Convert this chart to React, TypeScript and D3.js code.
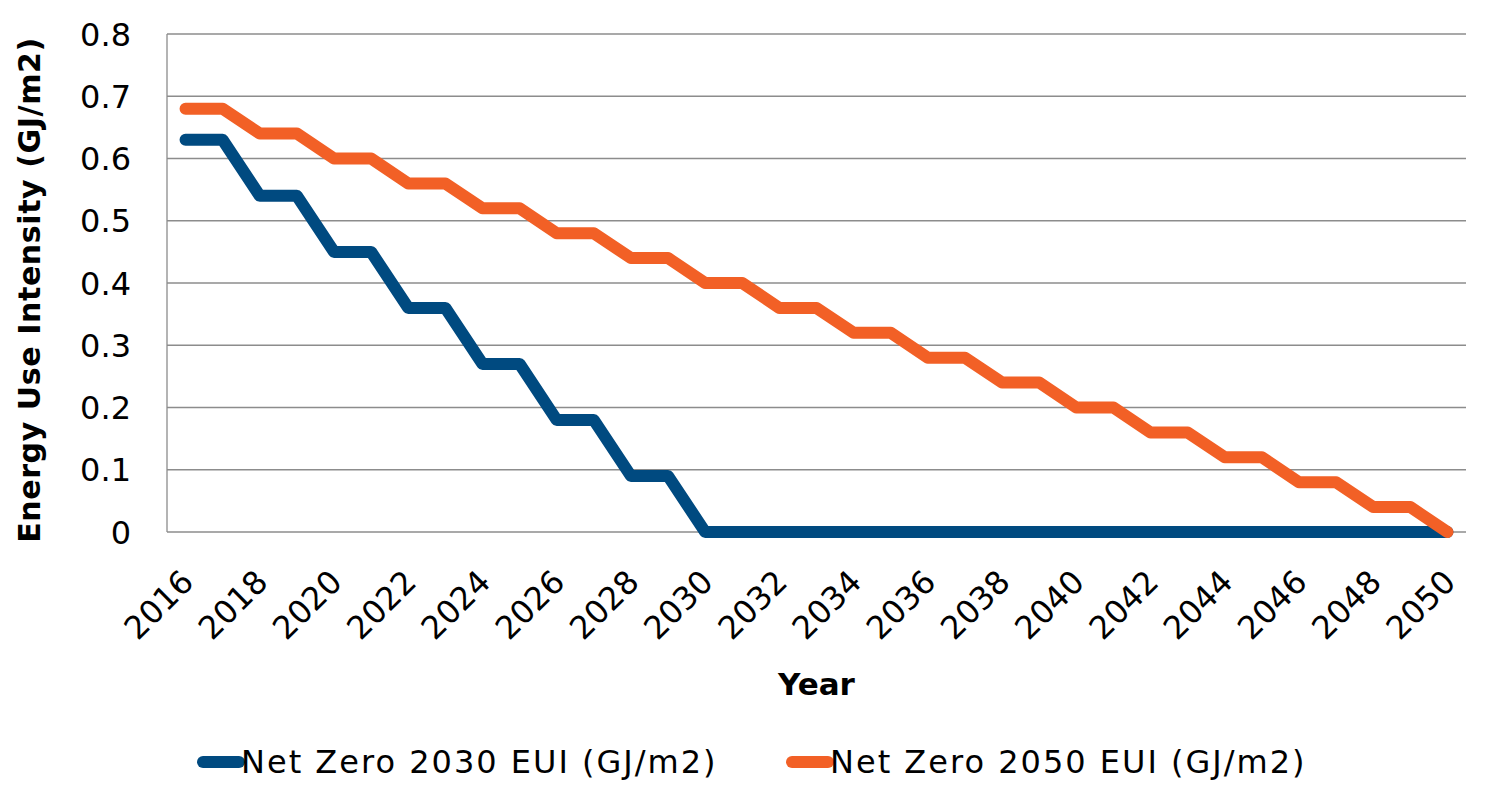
import React from "react";
import * as d3 from "d3";

const years: number[] = [
  2016, 2017, 2018, 2019, 2020, 2021, 2022, 2023, 2024, 2025, 2026, 2027,
  2028, 2029, 2030, 2031, 2032, 2033, 2034, 2035, 2036, 2037, 2038, 2039,
  2040, 2041, 2042, 2043, 2044, 2045, 2046, 2047, 2048, 2049, 2050,
];
const netZero2030: number[] = [
  0.63, 0.63, 0.54, 0.54, 0.45, 0.45, 0.36, 0.36, 0.27, 0.27, 0.18, 0.18,
  0.09, 0.09, 0, 0, 0, 0, 0, 0, 0, 0, 0, 0, 0, 0, 0, 0, 0, 0, 0, 0, 0, 0, 0,
];
const netZero2050: number[] = [
  0.68, 0.68, 0.64, 0.64, 0.6, 0.6, 0.56, 0.56, 0.52, 0.52, 0.48, 0.48, 0.44,
  0.44, 0.4, 0.4, 0.36, 0.36, 0.32, 0.32, 0.28, 0.28, 0.24, 0.24, 0.2, 0.2,
  0.16, 0.16, 0.12, 0.12, 0.08, 0.08, 0.04, 0.04, 0,
];
const yTicks: number[] = [0, 0.1, 0.2, 0.3, 0.4, 0.5, 0.6, 0.7, 0.8];
const seriesNames: string[] = [
  "Net Zero 2030 EUI (GJ/m2)",
  "Net Zero 2050 EUI (GJ/m2)",
];
const seriesColors: string[] = ["#004a80", "#f26026"];

const W = 1500;
const H = 800;
const left = 167;
const right = 1466;
const top = 34;
const bottom = 532;
const font = "'DejaVu Sans', sans-serif";

export default function App() {
  const x = d3
    .scaleBand<number>()
    .domain(years)
    .range([left, right])
    .paddingInner(0)
    .paddingOuter(0);
  const cx = (yr: number) => (x(yr) as number) + x.bandwidth() / 2;
  const y = d3.scaleLinear().domain([0, 0.8]).range([bottom, top]);
  const line = d3
    .line<number>()
    .x((_, i) => cx(years[i]))
    .y((d) => y(d));
  const series = [netZero2030, netZero2050];
  const labelYears = years.filter((yr) => (yr - 2016) % 2 === 0);

  return (
    <svg
      width={W}
      height={H}
      style={{ position: "absolute", left: 0, top: 0 }}
      fontFamily={font}
    >
      <rect width={W} height={H} fill="#fff" />
      {yTicks.map((t) => (
        <g key={t}>
          <line
            x1={left}
            x2={right}
            y1={y(t)}
            y2={y(t)}
            stroke="#8c8c8c"
            strokeWidth={1.3}
          />
          <text
            x={left - 36}
            y={y(t)}
            dy="0.36em"
            textAnchor="end"
            fontSize={32}
            fill="#000"
          >
            {t === 0 ? "0" : d3.format(".1f")(t)}
          </text>
        </g>
      ))}
      <line
        x1={left}
        x2={left}
        y1={top}
        y2={bottom}
        stroke="#8c8c8c"
        strokeWidth={1.3}
      />
      {labelYears.map((yr) => (
        <text
          key={yr}
          transform={`translate(${cx(yr) - 6},${bottom + 36}) rotate(-45)`}
          textAnchor="end"
          dy="0.7em"
          fontSize={32}
          fill="#000"
        >
          {yr}
        </text>
      ))}
      {series.map((s, i) => (
        <path
          key={i}
          d={line(s) || ""}
          fill="none"
          stroke={seriesColors[i]}
          strokeWidth={12}
          strokeLinecap="round"
          strokeLinejoin="round"
        />
      ))}
      <text
        x={(left + right) / 2}
        y={695}
        textAnchor="middle"
        fontSize={31}
        fontWeight="bold"
        fill="#000"
      >
        Year
      </text>
      <text
        transform={`translate(40,290) rotate(-90)`}
        textAnchor="middle"
        fontSize={30}
        fontWeight="bold"
        letterSpacing={0.6}
        fill="#000"
      >
        Energy Use Intensity (GJ/m2)
      </text>
      {seriesNames.map((n, i) => {
        const lx = i === 0 ? 203 : 792;
        return (
          <g key={n}>
            <line
              x1={lx}
              x2={lx + 36}
              y1={762}
              y2={762}
              stroke={seriesColors[i]}
              strokeWidth={12}
              strokeLinecap="round"
            />
            <text
              x={lx + 38}
              y={773}
              fontSize={32}
              letterSpacing={2}
              fill="#000"
            >
              {n}
            </text>
          </g>
        );
      })}
    </svg>
  );
}
